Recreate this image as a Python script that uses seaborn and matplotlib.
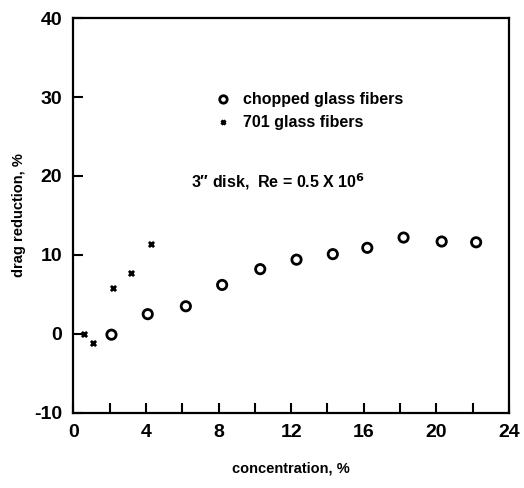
# Drag reduction vs fiber concentration

import pandas as pd
import matplotlib
matplotlib.use("Agg")
import matplotlib.pyplot as plt
import seaborn as sns


# Data

chopped_conc = [2.1, 4.1, 6.2, 8.2, 10.3, 12.3, 14.3, 16.2, 18.2, 20.3, 22.2]
chopped_drag = [-0.1, 2.5, 3.5, 6.2, 8.2, 9.4, 10.1, 10.9, 12.2, 11.7, 11.6]

glass701_conc = [0.6, 1.1, 2.2, 3.2, 4.3]
glass701_drag = [0.0, -1.2, 5.8, 7.7, 11.4]

x_ticks = [0, 4, 8, 12, 16, 20, 24]
y_ticks = [-10, 0, 10, 20, 30, 40]

chopped = pd.DataFrame({"conc": chopped_conc, "drag": chopped_drag})
glass701 = pd.DataFrame({"conc": glass701_conc, "drag": glass701_drag})


sns.set_style("white")
plt.rcParams["font.family"] = ["Liberation Sans", "DejaVu Sans"]
plt.rcParams["font.weight"] = "bold"
plt.rcParams["text.color"] = "black"
plt.rcParams["axes.labelcolor"] = "black"
plt.rcParams["xtick.color"] = "black"
plt.rcParams["ytick.color"] = "black"
plt.rcParams["axes.unicode_minus"] = False

fig = plt.figure(figsize=(5.24, 4.88), dpi=100)
ax = fig.add_axes([0.14, 0.154, 0.831, 0.809])

sns.scatterplot(
    data=chopped, x="conc", y="drag", ax=ax,
    marker="o", s=45, facecolor="none", edgecolor="black",
    linewidth=2, label="chopped glass fibers"
)

sns.scatterplot(
    data=glass701, x="conc", y="drag", ax=ax,
    marker="x", s=14, color="black", linewidth=2,
    label="701 glass fibers"
)

ax.set_xlim(0, 24)
ax.set_ylim(-10, 40)
ax.set_xticks(x_ticks)
ax.set_xticks(range(2, 24, 4), minor=True)
ax.set_yticks(y_ticks)

ax.tick_params(axis="both", which="both", direction="in", length=7,
               width=1.5, color="black", labelsize=14, pad=8,
               bottom=True, left=True, top=False, right=False)

for spine in ax.spines.values():
    spine.set_linewidth(1.6)
    spine.set_color("black")

ax.set_xlabel("concentration, %", fontsize=10.5, fontweight="bold", labelpad=15)
ax.set_ylabel("drag reduction, %", fontsize=10.5, fontweight="bold", labelpad=6)

leg = ax.legend(loc="upper left", bbox_to_anchor=(0.275, 0.85), frameon=False,
                handletextpad=0.2, labelspacing=0.5, markerscale=0.8,
                prop={"weight": "bold", "size": 11.5})

ax.text(0.27, 0.57, "3\u2033 disk,  Re = 0.5 X 10$^{\\mathbf{6}}$",
        transform=ax.transAxes, fontsize=11.5, fontweight="bold")

plt.savefig("out.png", dpi=100)
